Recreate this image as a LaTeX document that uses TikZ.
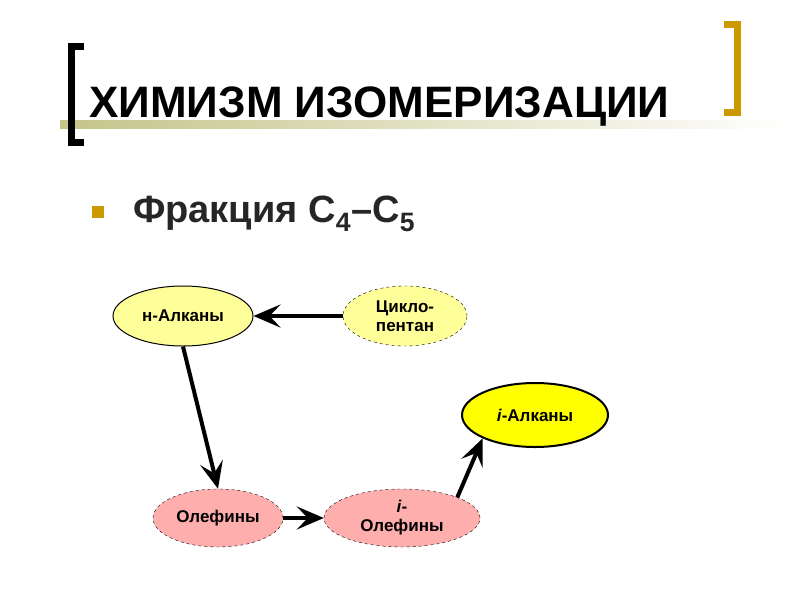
\documentclass[tikz,border=0pt]{standalone}
\usepackage{fontspec}
\setmainfont{Liberation Sans}
\usepackage{xcolor}
\usepackage{tikz}
\usetikzlibrary{arrows.meta,positioning,shapes.geometric}
\definecolor{goldc}{HTML}{CC9900}
\definecolor{olivec}{HTML}{C4C48A}
\definecolor{lyelc}{HTML}{FFFF99}
\definecolor{yelc}{HTML}{FFFF00}
\definecolor{pinkc}{HTML}{FFAEAE}

\begin{document}
\begin{tikzpicture}[x=1pt, y=-1pt,
  font=\bfseries,
  oval/.style={ellipse, draw, inner sep=0pt, align=center,
               font=\fontsize{17}{19}\selectfont\bfseries},
  arr/.style={-{Stealth[length=27pt, width=23pt, inset=11pt]}, line width=4pt}]
\useasboundingbox (0,0) rectangle (800,600);
% heading
\shade[left color=olivec, middle color=olivec!70, right color=white] (60,120) rectangle (790,128);
\draw[line width=7pt] (84,46) -- (71,46) -- (71,142) -- (84,142);
\draw[line width=7pt, goldc] (724,24) -- (737,24) -- (737,112) -- (724,112);
\node[anchor=base west, inner sep=0pt, font=\fontsize{44}{50}\selectfont\bfseries]
     (title) at (89,117) {ХИМИЗМ ИЗОМЕРИЗАЦИИ};
\fill[goldc] (92,206) rectangle (104,218) coordinate (bul);
\node[anchor=base west, inner sep=0pt, font=\fontsize{38}{44}\selectfont\bfseries, text=black!85]
     (frac) at (133,222) {Фракция C\textsubscript{4}–C\textsubscript{5}};
% scheme
\node[oval, fill=lyelc, line width=1pt, minimum width=140pt, minimum height=60pt] (nalk) at (183,316) {н-Алканы};
\node[oval, fill=lyelc, dashed, minimum width=124pt, minimum height=60pt] (cyc) at (405,316) {Цикло-\\пентан};
\node[oval, fill=yelc, line width=2pt, minimum width=146pt, minimum height=64pt] (ialk) at (535,415) {\textit{i}-Алканы};
\node[oval, fill=pinkc, dashed, minimum width=130pt, minimum height=58pt] (olef) at (218,518) {Олефины};
\node[oval, fill=pinkc, dashed, minimum width=156pt, minimum height=58pt] (iolef) at (402,518) {\textit{i}-\\Олефины};
\draw[arr] (cyc) -- (nalk);
\draw[arr] (nalk.south) -- (olef.north);
\draw[arr] (olef) -- (iolef);
\draw[arr] (iolef.north east) -- (ialk.south west);
\end{tikzpicture}
\end{document}
